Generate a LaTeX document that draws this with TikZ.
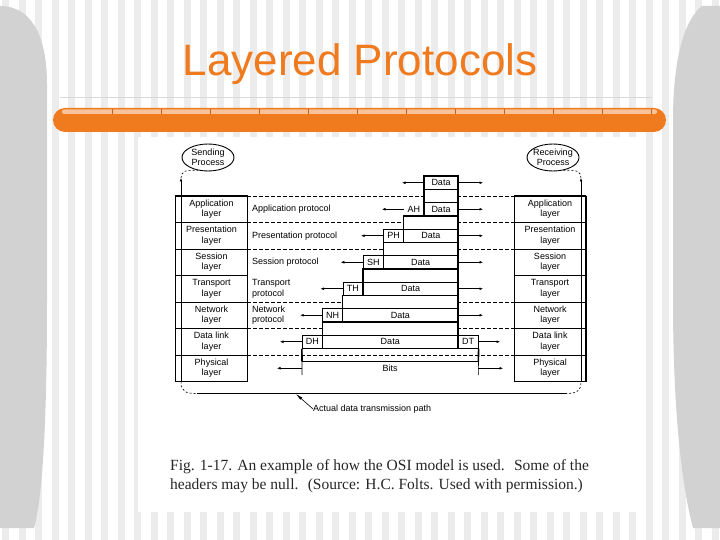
\documentclass[tikz,border=0pt]{standalone}
\usepackage{fontspec}
\setmainfont{Liberation Serif}
\newfontfamily\lsans{Liberation Sans}
\usetikzlibrary{arrows.meta,shapes.geometric}
\definecolor{orng}{HTML}{F07A1E}
\definecolor{orngl}{HTML}{F8C29A}
\definecolor{orngd}{HTML}{C9611A}
\definecolor{stripe}{HTML}{ECECEC}
\definecolor{sidegray}{HTML}{D2D2D2}
\newcommand{\dgmfont}{\lsans\fontsize{9}{10.5}\selectfont}
\begin{document}
\begin{tikzpicture}[x=1pt,y=-1pt,
  lbl/.style={font=\dgmfont, inner sep=0pt, align=center},
  layerbox/.style={draw, fill=white, line width=0.6pt, minimum width=71.5pt, minimum height=26.5pt, inner sep=0pt, font=\dgmfont, align=center},
  proc/.style={ellipse, draw, fill=white, line width=0.9pt, minimum width=52pt, minimum height=27pt, inner xsep=-4pt, inner ysep=-3pt, font=\dgmfont, align=center},
  thk/.style={line width=1.3pt},
  thn/.style={line width=0.6pt},
  dsh/.style={line width=0.6pt, dash pattern=on 3.5pt off 2.5pt},
  dcv/.style={line width=0.6pt, dash pattern=on 2pt off 2pt},
  hcell/.style={draw, fill=white, line width=0.6pt, minimum width=20.3pt, minimum height=13.5pt, inner sep=0pt, font=\dgmfont},
  dtext/.style={inner sep=0pt, minimum height=13.5pt, font=\dgmfont},
  arr/.style={line width=0.6pt, -{Latex[length=3.5pt,width=2.8pt]}},
]
\useasboundingbox (0,0) rectangle (720,540);
% background
\fill[white] (0,0) rectangle (720,540);
\foreach \i in {0,...,43} \fill[stripe] ({2+16.5*\i},0) rectangle ++(7,540);
\fill[sidegray] (0,6) .. controls (28,6) and (47,30) .. (47,85) -- (47,300)
  .. controls (47,430) and (42,500) .. (34,528) -- (0,528) -- cycle;
\fill[sidegray] (720,6) -- (702,6) .. controls (684,20) and (673,60) .. (673,120) -- (673,300)
  .. controls (673,420) and (683,490) .. (693,528) -- (720,528) -- cycle;
\fill[white] (138,137) rectangle (645,512);
\draw[gray!30, line width=0.8pt] (60,97) -- (652,97);
% orange bar
\fill[orng, rounded corners=12pt] (53,108) rectangle (666,132);
\fill[orngl, rounded corners=2pt] (62,109.5) rectangle (657,114);
\foreach \i in {0,...,11} \draw[orngd, line width=0.4pt] ({112+49*\i},109.5) -- ++(0,4.5);
% title
\node[font=\lsans\fontsize{44}{44}\selectfont, text=orng, anchor=base, inner sep=0pt] (title) at (360,76) {Layered Protocols};
% caption
\node[anchor=base west, inner sep=0pt, text=black!85, font=\fontsize{15.5}{19}\selectfont] (cap1) at (170,470)
  {Fig. 1-17. An example of how the OSI model is used.\hspace{0.6em}Some of the};
\node[anchor=base west, inner sep=0pt, text=black!85, font=\fontsize{15.5}{19}\selectfont] (cap2) at (170,489)
  {headers may be null.\hspace{0.6em}(Source: H.C. Folts. Used with permission.)};
% dashed layer separators
\foreach \yy in {196,222.5,249,302,328.5,355} \draw[dsh] (247,\yy) -- (514,\yy);
% layer stacks
\foreach \t [count=\i from 0] in {Application,Presentation,Session,Transport,Network,Data link,Physical} {
  \node[layerbox] (L\i) at (211.5,{209.25+26.5*\i}) {\t\\layer};
  \node[layerbox] (R\i) at (550,{209.25+26.5*\i}) {\t\\layer};
}
\draw[thk] (L0.north west) -- (L6.south west);
\draw[thk] (L0.north west) -- (L0.north east);
\draw[thk] (L6.south west) -- (L6.south east);
\draw[thk] (L0.south west) -- (L0.south east);
\draw[thk] (L4.south west) -- (L4.south east);
\draw[thk] (R0.north east) -- (R6.south east);
\draw[thk] (R0.north west) -- (R0.north east);
\draw[thk] (R6.south west) -- (R6.south east);
\draw[thk] (R0.south west) -- (R0.south east);
\draw[thk] (R4.south west) -- (R4.south east);
% protocol labels
\node[lbl, anchor=west] (ap) at (252,209.25) {Application protocol};
\node[lbl, anchor=west] (pp) at (252,235.75) {Presentation protocol};
\node[lbl, anchor=west] (spr) at (252,262.25) {Session protocol};
\node[lbl, anchor=west, align=left] (tp) at (252,288.75) {Transport\\protocol};
\node[lbl, anchor=west, align=left] (np) at (252,315.25) {Network\\protocol};
% processes
\node[proc] (send) at (208,157.5) {Sending\\Process};
\node[proc] (recv) at (553,157.5) {Receiving\\Process};
\coordinate (sB) at (181,381.5);
\coordinate (sT) at (181,178);
\coordinate (rB) at (581,381.5);
\coordinate (rT) at (581,178);
\coordinate (pL) at (197,393.5);
\coordinate (pR) at (565,393.5);
\coordinate (pA) at (296,394);
\draw[arr] (sB) -- (sT);
\draw[arr] (rB) -- (rT);
\draw[dcv] (sT) .. controls (181,172) and (184,169.5) .. (send.232);
\draw[dcv] (rT) .. controls (581,172) and (578,169.5) .. (recv.308);
\draw[dcv] (sB) .. controls (181,392) and (186,393.5) .. (pL);
\draw[thn] (pL) -- (pR);
\draw[dcv] (pR) .. controls (576,393.5) and (581,392) .. (rB);
\node[lbl, anchor=west] (apath) at (313,409) {Actual data transmission path};
\draw[line width=0.6pt, -{Latex[length=7pt,width=3pt]}] (apath.west) -- (pA);
% data stack
\node[hcell, thk, minimum width=34pt] (D0) at (441,182.75) {Data};
\filldraw[thk, fill=white] (424,189.5) rectangle (458,216);
\draw[thn] (424,202.5) -- (458,202.5);
\node[dtext, minimum width=20.3pt] (H0) at (413.85,209.25) {AH};
\node[dtext, minimum width=34pt] (D1) at (441,209.25) {Data};
\foreach \xp/\xk/\bp/\tk/\ck/\bk/\h/\n in {
  403.7/383.4/216/229/235.75/242.5/PH/1,
  383.4/363.1/242.5/255.5/262.25/269/SH/2,
  363.1/342.8/269/282/288.75/295.5/TH/3,
  342.8/322.5/295.5/308.5/315.25/322/NH/4,
  322.5/302.2/322/335/341.75/348.5/DH/5} {
  \node[hcell] (H\n) at ({(\xk+\xp)/2},\ck) {\h};
  \filldraw[thk, fill=white] (\xp,\bp) rectangle (458,\bk);
  \draw[thn] (\xp,\tk) -- (458,\tk);
  \node[dtext, minimum width={458-\xp}] (E\n) at ({(\xp+458)/2},\ck) {Data};
}
\node[hcell] (DT) at (468.15,341.75) {DT};
\draw[thk] (458,176) -- (458,348.5);
\node[dtext, minimum width=175.95pt] (Bits) at (390.175,368.25) {Bits};
\draw[thn] (Bits.north west) -- (Bits.north east);
\draw[thn] (H5.south west) -- (Bits.south west);
\draw[thn] (DT.south east) -- (Bits.south east);
\draw[line width=1.6pt] (H5.south west) -- (Bits.north west);
\draw[line width=1.6pt] (DT.south east) -- (Bits.north east);
% arrows
\coordinate (la0) at (402,182.75);
\coordinate (ra0) at (483,182.75);
\draw[arr] (D0.west) -- (la0);
\draw[arr] (D0.east) -- (ra0);
\coordinate (lh0) at (382,209.25);
\coordinate (rh0) at (483,209.25);
\draw[arr] (H0.west) -- (lh0);
\draw[arr] (D1.east) -- (rh0);
\foreach \n/\yy in {1/235.75,2/262.25,3/288.75,4/315.25} {
  \path (H\n.west) ++(-22,0) coordinate (lh\n);
  \coordinate (rh\n) at (483,\yy);
  \draw[arr] (H\n.west) -- (lh\n);
  \draw[arr] (E\n.east) -- (rh\n);
}
\coordinate (lh5) at (280,341.75);
\coordinate (rh5) at (500,341.75);
\draw[arr] (H5.west) -- (lh5);
\draw[arr] (DT.east) -- (rh5);
\coordinate (lb) at (277,368.25);
\coordinate (rb) at (503,368.25);
\draw[arr] (Bits.west) -- (lb);
\draw[arr] (Bits.east) -- (rb);
\end{tikzpicture}
\end{document}
